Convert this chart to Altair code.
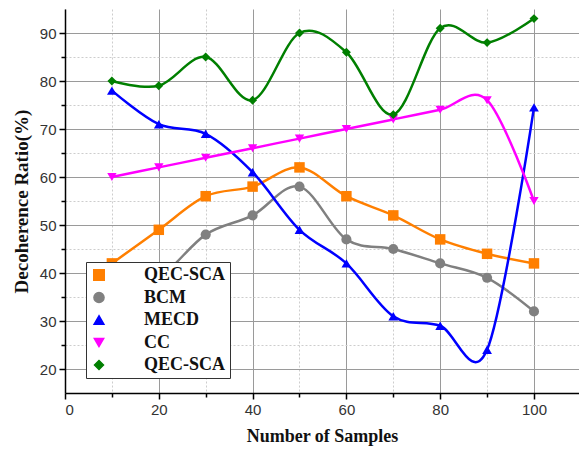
import altair as alt
import pandas as pd

samples = [10, 20, 30, 40, 50, 60, 70, 80, 90, 100]
qec_sca = [42, 49, 56, 58, 62, 56, 52, 47, 44, 42]
bcm = [36, 39, 48, 52, 58, 47, 45, 42, 39, 32]
mecd = [78, 71, 69, 61, 49, 42, 31, 29, 24, 74.5]
cc = [60, 62, 64, 66, 68, 70, 72, 74, 76, 55]
qec_sca_2 = [80, 79, 85, 76, 90, 86, 73, 91, 88, 93]

series_names = ["QEC-SCA", "BCM", "MECD", "CC", "QEC-SCA "]
series_values = [qec_sca, bcm, mecd, cc, qec_sca_2]
series_colors = ["#FF7F00", "#808080", "#0000FF", "#FF00FF", "#007F00"]
series_shapes = ["square", "circle", "triangle-up", "triangle-down", "diamond"]
series_sizes = [110, 80, 150, 150, 170]

x_ticks = [0, 10, 20, 30, 40, 50, 60, 70, 80, 90, 100]
y_ticks = [20, 25, 30, 35, 40, 45, 50, 55, 60, 65, 70, 75, 80, 85, 90]

rows = []
for name, vals in zip(series_names, series_values):
    for xv, yv in zip(samples, vals):
        rows.append({"Samples": xv, "Ratio": yv, "Series": name})
df = pd.DataFrame(rows)

color_scale = alt.Scale(domain=series_names, range=series_colors)
shape_scale = alt.Scale(domain=series_names, range=series_shapes)
size_scale = alt.Scale(domain=series_names, range=series_sizes)

x_enc = alt.X(
    "Samples:Q",
    scale=alt.Scale(domain=[0, 109.6], nice=False, zero=False),
    axis=alt.Axis(
        title="Number of Samples",
        values=x_ticks,
        labelExpr="datum.value % 20 == 0 ? datum.label : ''",
        labelFont="Liberation Sans",
        labelFontSize=15,
        labelColor="#333333",
        labelPadding=3,
        titleFont="Liberation Serif",
        titleFontSize=18,
        titleFontWeight="bold",
        titleColor="#111111",
        titlePadding=10,
        domainColor="#000000",
        domainWidth=1.5,
        tickColor="#000000",
        tickWidth=1.5,
        tickSize={"condition": {"test": "datum.value % 20 == 0", "value": 6}, "value": 4},
        grid=True,
        gridColor={"condition": {"test": "datum.value % 20 == 0", "value": "#9a9a9a"}, "value": "#cdcdcd"},
        gridDash={"condition": {"test": "datum.value % 20 == 0", "value": []}, "value": [2, 2]},
        gridWidth=1,
    ),
)
y_enc = alt.Y(
    "Ratio:Q",
    scale=alt.Scale(domain=[15, 95], nice=False, zero=False),
    axis=alt.Axis(
        title="Decoherence Ratio(%)",
        values=y_ticks,
        labelExpr="datum.value % 10 == 0 ? datum.label : ''",
        labelFont="Liberation Sans",
        labelFontSize=15,
        labelColor="#333333",
        labelPadding=3,
        titleFont="Liberation Serif",
        titleFontSize=19,
        titleFontWeight="bold",
        titleColor="#111111",
        titlePadding=8,
        domainColor="#000000",
        domainWidth=1.5,
        tickColor="#000000",
        tickWidth=1.5,
        tickSize={"condition": {"test": "datum.value % 10 == 0", "value": 6}, "value": 4},
        grid=True,
        gridColor={"condition": {"test": "datum.value % 10 == 0", "value": "#9a9a9a"}, "value": "#cdcdcd"},
        gridDash={"condition": {"test": "datum.value % 10 == 0", "value": []}, "value": [2, 2]},
        gridWidth=1,
    ),
)

legend = alt.Legend(
    title=None,
    orient="none",
    legendX=21,
    legendY=253,
    fillColor="#ffffff",
    strokeColor="#333333",
    padding=4,
    rowPadding=4.5,
    labelFont="Liberation Serif",
    labelFontWeight="bold",
    labelFontSize=18,
    labelColor="#111111",
    labelExpr="trim(datum.label)",
    labelOffset=36,
    symbolSize=100,
    symbolOpacity=1,
)

lines = alt.Chart(df).mark_line(interpolate="cardinal", tension=0, strokeWidth=2.5).encode(
    x=x_enc,
    y=y_enc,
    color=alt.Color("Series:N", scale=color_scale, legend=legend, sort=series_names),
    detail="Series:N",
)

points = alt.Chart(df).mark_point(filled=True, opacity=1).encode(
    x=x_enc,
    y=y_enc,
    color=alt.Color("Series:N", scale=color_scale, legend=legend, sort=series_names),
    shape=alt.Shape("Series:N", scale=shape_scale, legend=None),
    size=alt.Size("Series:N", scale=size_scale, legend=None),
)

chart = (
    alt.layer(lines, points)
    .properties(
        width=514,
        height=384,
        autosize=alt.AutoSizeParams(type="none"),
        padding={"left": 65, "top": 9, "right": 0, "bottom": 58},
        background="#ffffff",
    )
    .configure_view(stroke=None)
    .configure_legend(strokeColor="#333333", strokeWidth=1)
)

chart.save("out.html", embed_options={"renderer": "svg", "actions": False})
